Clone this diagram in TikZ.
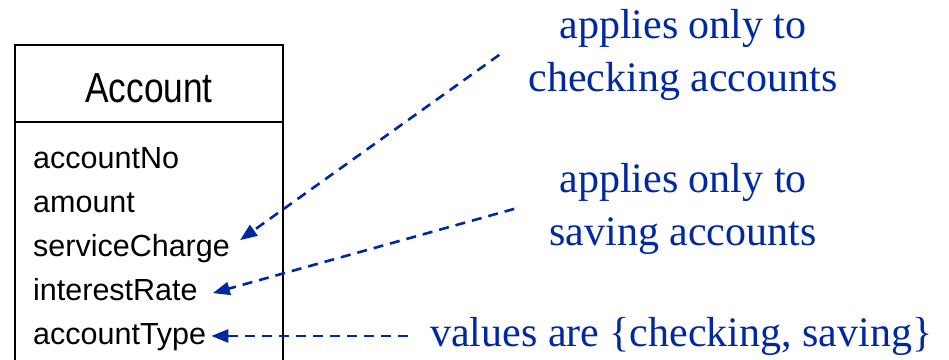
\documentclass[tikz,border=0pt]{standalone}
\usepackage{fontspec}
\setmainfont{Liberation Serif}
\setsansfont{Liberation Sans}
\newfontfamily\titlesans[FakeStretch=0.84]{Liberation Sans}
\usetikzlibrary{arrows.meta,positioning,calc}
\definecolor{noteblue}{RGB}{0,40,160}
\tikzset{
  clsbox/.style={draw, rectangle, line width=1.3pt, outer sep=0pt, inner sep=0pt, minimum width=268pt},
  cname/.style={font=\fontsize{42}{46}\titlesans, inner sep=0pt, anchor=base},
  attr/.style={font=\fontsize{30.5}{36}\sffamily, inner sep=0pt, anchor=base west},
  note/.style={font=\fontsize{42}{52.5}\selectfont, text=noteblue, align=center, inner sep=0pt},
  narr/.style={noteblue, line width=2.6pt, dash pattern=on 10pt off 7pt, -{Triangle[length=17pt,width=13pt]}},
}

\begin{document}
\begin{tikzpicture}[x=1pt, y=1pt]
\useasboundingbox (0,0) rectangle (949,-359);
% class box
\node[clsbox, anchor=north west, minimum height=77pt] (head) at (15,-45) {};
\node[cname] (name) at ($(head.south)+(0,20pt)$) {Account};
\node[clsbox, anchor=north west, minimum height=300pt] (body) at (head.south west) {};
\node[attr] (acno) at (33,-168) {accountNo};
\node[attr] (amt) at ([yshift=-44pt]acno.base west) {amount};
\node[attr] (svc) at ([yshift=-44pt]amt.base west) {serviceCharge};
\node[attr] (rate) at ([yshift=-44pt]svc.base west) {interestRate};
\node[attr] (acty) at ([yshift=-44pt]rate.base west) {accountType};
% notes
\node[note, anchor=north] (chk) at (683,-9.3) {applies only to\\checking accounts};
\node[note, anchor=north] (sav) at (683,-163.3) {applies only to\\saving accounts};
\node[note, anchor=base west] (vals) at (430,-346) {values are \{checking, saving\}};
\draw[narr] ([xshift=-29pt]chk.west) -- ([shift={(10pt,8pt)}]svc.east);
\draw[narr] ([xshift=-35pt]sav.west) -- ([shift={(15pt,-4pt)}]rate.east);
\draw[narr] ([xshift=-22pt]vals.west) -- ($(acty.east |- vals.west)+(5pt,0)$);
\end{tikzpicture}
\end{document}
